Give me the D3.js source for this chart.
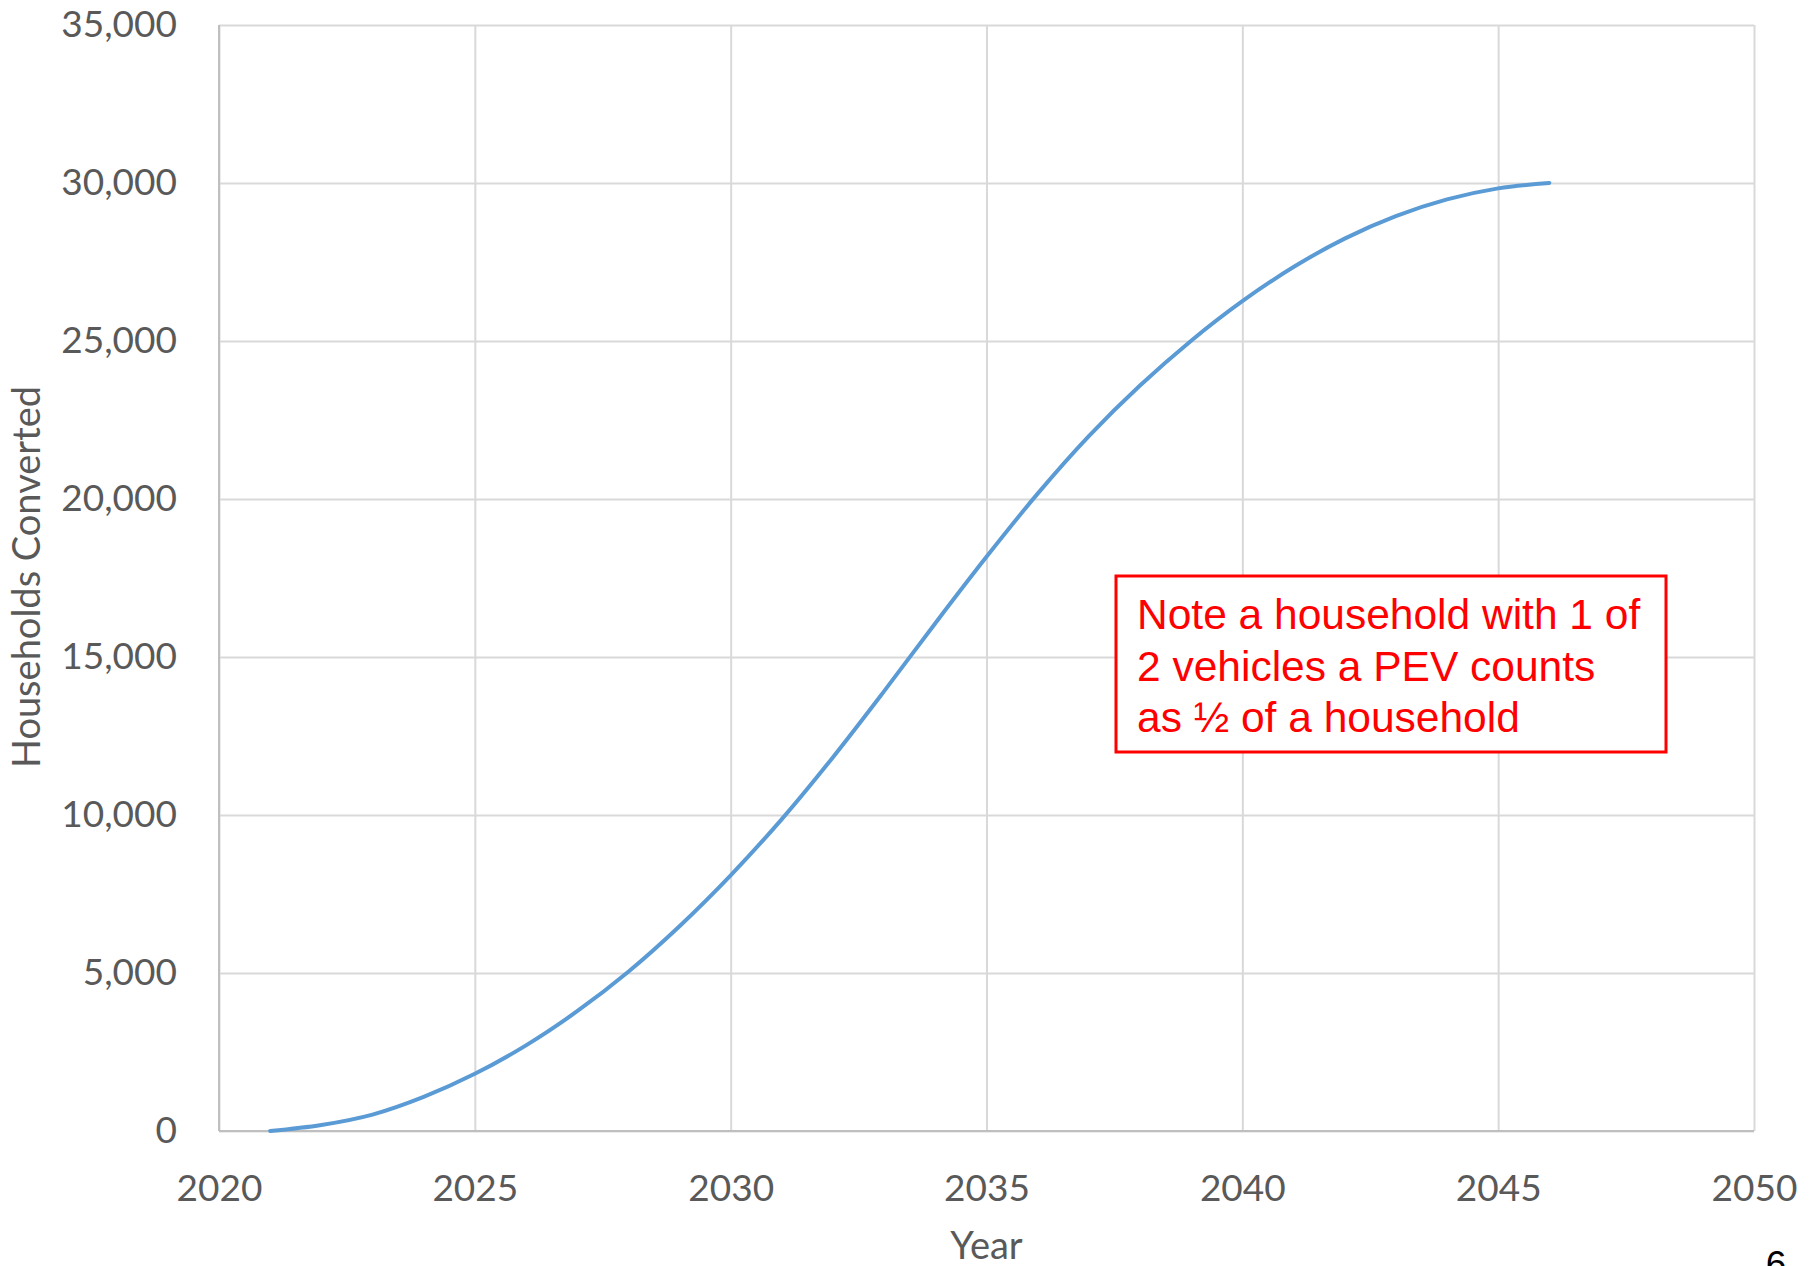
<!DOCTYPE html>
<html>
<head>
<meta charset="utf-8">
<script src="https://cdn.jsdelivr.net/npm/d3@7"></script>
<style>
  html, body { margin: 0; padding: 0; background: #ffffff; }
  svg { display: block; }
</style>
</head>
<body>
<svg id="chart" width="1814" height="1266"></svg>
<script>
// Cumulative households converted to plug-in electric vehicles, by year
const years = [2021, 2022, 2023, 2024, 2025, 2026, 2027, 2028, 2029, 2030,
               2031, 2032, 2033, 2034, 2035, 2036, 2037, 2038, 2039, 2040,
               2041, 2042, 2043, 2044, 2045, 2046];
const households = [0, 190, 520, 1080, 1810, 2710, 3790, 5040, 6480, 8090,
                    9870, 11830, 13920, 16070, 18170, 20170, 21990, 23590, 25010, 26260,
                    27340, 28240, 28950, 29480, 29830, 30000];

const xTicks = [2020, 2025, 2030, 2035, 2040, 2045, 2050];
const yTicks = [0, 5000, 10000, 15000, 20000, 25000, 30000, 35000];

const noteLines = [
  "Note a household with 1 of",
  "2 vehicles a PEV counts",
  "as \u00BD of a household"
];
const pageNumber = "6";

const svg = d3.select("#chart");
const plot = { left: 219, right: 1754, top: 25, bottom: 1131 };
const labelFont = "Lato, 'Open Sans', sans-serif";
const labelColor = "#595959";

const x = d3.scaleLinear().domain([2020, 2050]).range([plot.left, plot.right]);
const y = d3.scaleLinear().domain([0, 35000]).range([plot.bottom, plot.top]);

// Gridlines
const gridY = svg.append("g")
  .attr("transform", `translate(${plot.left},0)`)
  .call(d3.axisLeft(y).tickValues(yTicks).tickSize(-(plot.right - plot.left)).tickFormat(""));
gridY.select(".domain").remove();
gridY.selectAll("line").attr("stroke", "#d9d9d9").attr("stroke-width", 2);

const gridX = svg.append("g")
  .attr("transform", `translate(0,${plot.bottom})`)
  .call(d3.axisBottom(x).tickValues(xTicks).tickSize(-(plot.bottom - plot.top)).tickFormat(""));
gridX.select(".domain").remove();
gridX.selectAll("line").attr("stroke", "#d9d9d9").attr("stroke-width", 2);

// Axis lines
svg.append("line")
  .attr("x1", x(2020)).attr("x2", x(2020))
  .attr("y1", y(35000)).attr("y2", y(0))
  .attr("stroke", "#bfbfbf").attr("stroke-width", 2);
svg.append("line")
  .attr("x1", x(2020)).attr("x2", x(2050))
  .attr("y1", y(0)).attr("y2", y(0))
  .attr("stroke", "#bfbfbf").attr("stroke-width", 2);

// Tick labels
const yAxis = svg.append("g")
  .attr("transform", `translate(${plot.left},0)`)
  .call(d3.axisLeft(y).tickValues(yTicks).tickSize(0).tickPadding(42).tickFormat(d3.format(",")));
yAxis.select(".domain").remove();
yAxis.selectAll("text")
  .attr("font-family", labelFont).attr("font-size", 37).attr("fill", labelColor);

const xAxis = svg.append("g")
  .attr("transform", `translate(0,${plot.bottom})`)
  .call(d3.axisBottom(x).tickValues(xTicks).tickSize(0).tickPadding(44).tickFormat(d3.format("d")));
xAxis.select(".domain").remove();
xAxis.selectAll("text")
  .attr("font-family", labelFont).attr("font-size", 37).attr("fill", labelColor);

// Axis titles
svg.append("text")
  .attr("x", (plot.left + plot.right) / 2).attr("y", 1259)
  .attr("text-anchor", "middle")
  .attr("font-family", labelFont).attr("font-size", 38).attr("fill", labelColor)
  .text("Year");

svg.append("text")
  .attr("transform", `translate(40,577) rotate(-90)`)
  .attr("text-anchor", "middle")
  .attr("font-family", labelFont).attr("font-size", 38).attr("fill", labelColor)
  .text("Households Converted");

// Adoption curve
const line = d3.line()
  .x((d, i) => x(years[i]))
  .y(d => y(d))
  .curve(d3.curveCatmullRom.alpha(0.5));

svg.append("path")
  .datum(households)
  .attr("d", line)
  .attr("fill", "none")
  .attr("stroke", "#5b9bd5")
  .attr("stroke-width", 4)
  .attr("stroke-linecap", "round")
  .attr("stroke-linejoin", "round");

// Note box
const note = svg.append("g");
note.append("rect")
  .attr("x", 1116).attr("y", 576)
  .attr("width", 550).attr("height", 176)
  .attr("fill", "#ffffff")
  .attr("stroke", "#ff0000").attr("stroke-width", 3);
note.selectAll("text")
  .data(noteLines)
  .join("text")
  .attr("x", 1137)
  .attr("y", (d, i) => 629 + i * 51.5)
  .attr("font-family", "'Liberation Sans', Arial, sans-serif")
  .attr("font-size", 42.5)
  .attr("fill", "#ff0000")
  .text(d => d);

// Page number
svg.append("text")
  .attr("x", 1776).attr("y", 1277)
  .attr("text-anchor", "middle")
  .attr("font-family", "'Liberation Sans', Arial, sans-serif")
  .attr("font-size", 37)
  .attr("fill", "#000000")
  .text(pageNumber);
</script>
</body>
</html>
